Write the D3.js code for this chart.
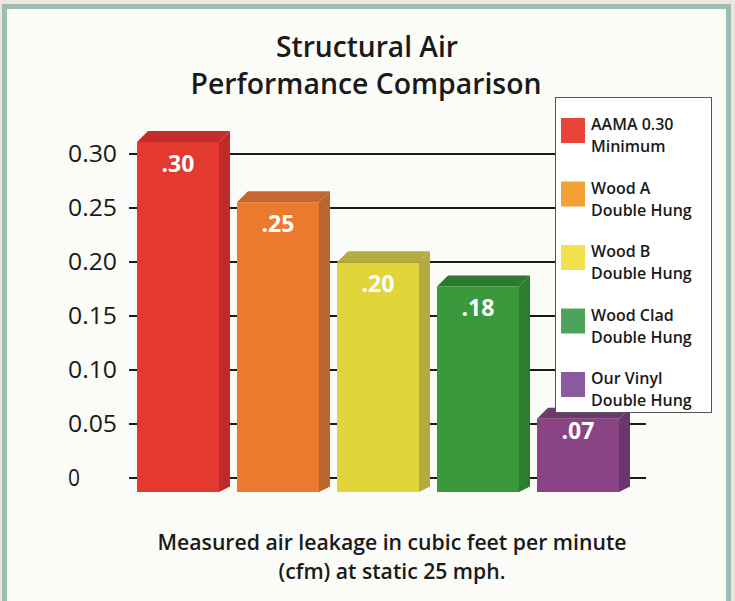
<!DOCTYPE html>
<html>
<head>
<meta charset="utf-8">
<script src="https://cdn.jsdelivr.net/npm/d3@7"></script>
<style>
  html, body { margin: 0; padding: 0; background: #ece7dc; }
  svg { display: block; }
  text { font-family: "Open Sans", "Noto Sans", sans-serif; }
</style>
</head>
<body>
<svg id="chart" width="735" height="601"></svg>
<script>
// Chart data.
const categories = ["AAMA 0.30 Minimum", "Wood A Double Hung", "Wood B Double Hung", "Wood Clad Double Hung", "Our Vinyl Double Hung"];
const legendLines = [["AAMA 0.30", "Minimum"], ["Wood A", "Double Hung"], ["Wood B", "Double Hung"], ["Wood Clad", "Double Hung"], ["Our Vinyl", "Double Hung"]];
const values = [0.30, 0.25, 0.20, 0.18, 0.07];
const valueLabels = [".30", ".25", ".20", ".18", ".07"];
const tickValues = [0, 0.05, 0.10, 0.15, 0.20, 0.25, 0.30];
const tickLabels = ["0", "0.05", "0.10", "0.15", "0.20", "0.25", "0.30"];

// Colours: front face, top face, side face, legend swatch.
const frontColors = ["#e3392f", "#ec7a2e", "#e2d53b", "#3a9a3b", "#8a4486"];
const topColors = ["#c42d2b", "#c4682f", "#b5ad44", "#2b7a2f", "#6d386b"];
const sideColors = ["#bf2b29", "#bd652f", "#b3ab40", "#2b7d2f", "#6c366c"];
const swatchColors = ["#e8433a", "#f4a236", "#f3e04f", "#4ea35a", "#8a5a9e"];

const svg = d3.select("#chart");

// Frame: beige page, teal border, white card.
svg.append("rect")
    .attr("x", 4.5).attr("y", 6.5)
    .attr("width", 724).attr("height", 600)
    .attr("fill", "#fbfbf7")
    .attr("stroke", "#9cbdb4")
    .attr("stroke-width", 5);

// Scales. The grid sits on the back wall, the bar fronts stand in front of it.
const x = d3.scaleBand().domain(categories).range([137, 619]).paddingInner(0.18).paddingOuter(0);
const yGrid = d3.scaleLinear().domain([0, 0.30]).range([478, 154]);
const yFront = d3.scaleLinear().domain([0, 0.30]).range([503, 142]);
const barBase = 492;
const depth = { dx: 11, dy: 11 };

// Fit a line of text to the width it has in the original.
function fitted(sel, width) {
    return sel.attr("textLength", width).attr("lengthAdjust", "spacingAndGlyphs");
}

// Title.
const title = svg.append("text")
    .attr("text-anchor", "middle")
    .attr("font-size", 29).attr("font-weight", 600)
    .attr("fill", "#1a1a1a");
fitted(title.append("tspan").attr("x", 367).attr("y", 57).text("Structural Air"), 182);
fitted(title.append("tspan").attr("x", 366).attr("y", 94).text("Performance Comparison"), 351);

// Gridlines and y tick labels (labels are left-aligned, as in the original).
svg.append("g")
    .selectAll("line")
    .data(tickValues)
    .join("line")
    .attr("x1", 129).attr("x2", 646)
    .attr("y1", (d) => yGrid(d)).attr("y2", (d) => yGrid(d))
    .attr("stroke", "#1a1a1a")
    .attr("stroke-width", 2);

svg.append("g")
    .selectAll("text")
    .data(tickValues)
    .join("text")
    .attr("x", 68)
    .attr("y", (d) => yGrid(d) + 8)
    .attr("font-size", 23)
    .attr("fill", "#1a1a1a")
    .attr("textLength", (d, i) => tickLabels[i].length === 1 ? 12 : 49)
    .attr("lengthAdjust", "spacingAndGlyphs")
    .text((d, i) => tickLabels[i]);

// 3D bars.
const bars = svg.append("g")
    .selectAll("g")
    .data(values)
    .join("g");

bars.append("path")
    .attr("fill", (d, i) => sideColors[i])
    .attr("d", (d, i) => {
        const x1 = x(categories[i]) + x.bandwidth();
        const top = yFront(d);
        return `M${x1},${top} L${x1 + depth.dx},${top - depth.dy} L${x1 + depth.dx},${barBase - depth.dy / 2} L${x1},${barBase} Z`;
    });

bars.append("path")
    .attr("fill", (d, i) => topColors[i])
    .attr("d", (d, i) => {
        const x0 = x(categories[i]);
        const x1 = x0 + x.bandwidth();
        const top = yFront(d);
        return `M${x0},${top} L${x0 + depth.dx},${top - depth.dy} L${x1 + depth.dx},${top - depth.dy} L${x1},${top} Z`;
    });

bars.append("rect")
    .attr("x", (d, i) => x(categories[i]))
    .attr("y", (d) => yFront(d))
    .attr("width", x.bandwidth())
    .attr("height", (d) => barBase - yFront(d))
    .attr("fill", (d, i) => frontColors[i]);

bars.append("text")
    .attr("x", (d, i) => x(categories[i]) + x.bandwidth() / 2)
    .attr("y", (d) => yFront(d) + Math.min(30, (barBase - yFront(d)) * 0.27))
    .attr("text-anchor", "middle")
    .attr("font-size", 23)
    .attr("font-weight", 700)
    .attr("fill", "#ffffff")
    .text((d, i) => valueLabels[i]);

// Legend.
const legend = svg.append("g").attr("transform", "translate(555,97)");
legend.append("rect")
    .attr("x", 0.5).attr("y", 0.5)
    .attr("width", 156).attr("height", 315)
    .attr("fill", "#ffffff")
    .attr("stroke", "#555555")
    .attr("stroke-width", 1);

const items = legend.selectAll("g.item")
    .data(categories)
    .join("g")
    .attr("class", "item")
    .attr("transform", (d, i) => `translate(0,${21 + i * 63.5})`);

items.append("rect")
    .attr("x", 6).attr("y", 0)
    .attr("width", 24).attr("height", 25)
    .attr("fill", (d, i) => swatchColors[i]);

items.append("text")
    .attr("x", 36).attr("y", 12)
    .attr("font-size", 16)
    .attr("font-weight", 600)
    .attr("fill", "#1a1a1a")
    .text((d, i) => legendLines[i][0]);

items.append("text")
    .attr("x", 36).attr("y", 34)
    .attr("font-size", 16)
    .attr("font-weight", 600)
    .attr("fill", "#1a1a1a")
    .text((d, i) => legendLines[i][1]);

// Axis caption.
const caption = svg.append("text")
    .attr("text-anchor", "middle")
    .attr("font-size", 21)
    .attr("font-weight", 600)
    .attr("fill", "#1a1a1a");
fitted(caption.append("tspan").attr("x", 392).attr("y", 550).text("Measured air leakage in cubic feet per minute"), 469);
fitted(caption.append("tspan").attr("x", 392).attr("y", 579).text("(cfm) at static 25 mph."), 227);
</script>
</body>
</html>
